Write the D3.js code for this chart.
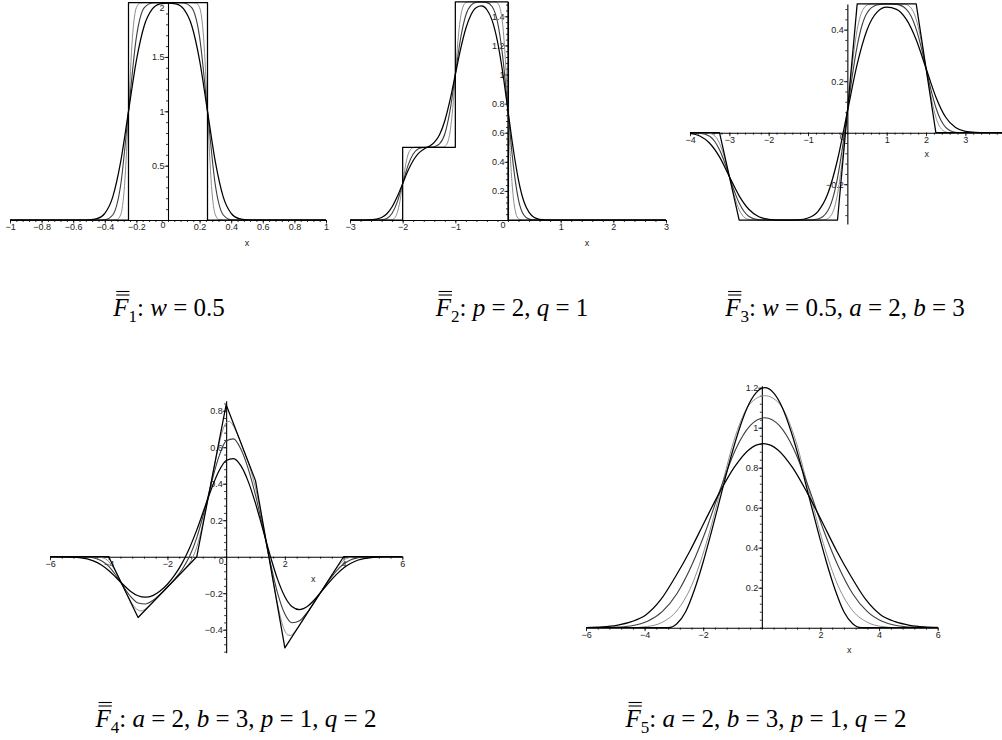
<!DOCTYPE html>
<html>
<head>
<meta charset="utf-8">
<script src="https://cdn.jsdelivr.net/npm/d3@7"></script>
<style>
  body { margin: 0; background: #fff; }
  svg { display: block; }
  .cap { font-family: "Liberation Serif", "Times New Roman", serif; font-size: 25px; white-space: pre; fill: #000; }
  .tick text, .lbl { font-family: "Liberation Sans", Arial, sans-serif; font-size: 9px; fill: #222; }
</style>
</head>
<body>
<svg id="fig" width="1002" height="740"></svg>
<script>
// ---------- F1: box of width 0.5 and its three smoothings ----------
const p1Box = [[-1,0],[-0.25,0],[-0.25,2],[0.25,2],[0.25,0],[1,0]];
const p1Light = [[-1,0],[-0.35,0],[-0.325,0.003],[-0.3,0.046],[-0.275,0.317],[-0.25,1.0],[-0.225,1.683],[-0.2,1.954],[-0.175,1.997],[-0.15,2],[0,2],[0.15,2],[0.175,1.997],[0.2,1.954],[0.225,1.683],[0.25,1.0],[0.275,0.317],[0.3,0.046],[0.325,0.003],[0.35,0],[1,0]];
const p1Mid = [[-1,0],[-0.45,0],[-0.4,0.003],[-0.35,0.046],[-0.3,0.317],[-0.25,1.0],[-0.2,1.683],[-0.15,1.954],[-0.1,1.997],[-0.05,2],[0,2],[0.05,2],[0.1,1.997],[0.15,1.954],[0.2,1.683],[0.25,1.0],[0.3,0.317],[0.35,0.046],[0.4,0.003],[0.45,0],[1,0]];
const p1Wide = [[-1,0],[-0.55,0],[-0.5,0.002],[-0.45,0.012],[-0.4,0.061],[-0.35,0.211],[-0.3,0.532],[-0.25,1.0],[-0.2,1.468],[-0.15,1.789],[-0.1,1.939],[-0.05,1.988],[0,1.996],[0.05,1.988],[0.1,1.939],[0.15,1.789],[0.2,1.468],[0.25,1.0],[0.3,0.532],[0.35,0.211],[0.4,0.061],[0.45,0.012],[0.5,0.002],[0.55,0],[1,0]];
const p1XTicks = [-1,-0.8,-0.6,-0.4,-0.2,0.2,0.4,0.6,0.8,1];
const p1YTicks = [0.5,1,1.5,2];

// ---------- F2: two-step function and its smoothings ----------
const p2Box = [[-3,0],[-2,0],[-2,0.5],[-1,0.5],[-1,1.5],[0,1.5],[0,0],[3,0]];
const p2Light = [[-3,0],[-2.3,0],[-2.25,0.0004],[-2.2,0.003],[-2.15,0.015],[-2.1,0.053],[-2.05,0.133],[-2,0.25],[-1.95,0.367],[-1.9,0.447],[-1.85,0.485],[-1.8,0.497],[-1.75,0.5],[-1.25,0.501],[-1.2,0.506],[-1.15,0.53],[-1.1,0.606],[-1.05,0.766],[-1,1.0],[-0.95,1.234],[-0.9,1.394],[-0.85,1.47],[-0.8,1.494],[-0.75,1.499],[-0.25,1.499],[-0.2,1.491],[-0.15,1.454],[-0.1,1.342],[-0.05,1.101],[0,0.75],[0.05,0.399],[0.1,0.158],[0.15,0.046],[0.2,0.009],[0.25,0.001],[0.3,0],[3,0]];
const p2Mid = [[-3,0],[-2.5,0],[-2.4,0.002],[-2.3,0.011],[-2.2,0.046],[-2.1,0.126],[-2,0.25],[-1.9,0.374],[-1.8,0.454],[-1.7,0.489],[-1.6,0.498],[-1.5,0.5],[-1.4,0.504],[-1.3,0.523],[-1.2,0.591],[-1.1,0.753],[-1,1.0],[-0.9,1.248],[-0.8,1.409],[-0.7,1.477],[-0.6,1.496],[-0.5,1.499],[-0.4,1.494],[-0.3,1.466],[-0.2,1.363],[-0.1,1.121],[0,0.75],[0.1,0.379],[0.2,0.137],[0.3,0.034],[0.4,0.006],[0.5,0.001],[0.6,0],[3,0]];
const p2Wide = [[-3,0],[-2.7,0],[-2.6,0.002],[-2.5,0.006],[-2.4,0.017],[-2.3,0.043],[-2.2,0.091],[-2.1,0.163],[-2,0.25],[-1.9,0.338],[-1.8,0.409],[-1.7,0.458],[-1.6,0.486],[-1.5,0.506],[-1.4,0.533],[-1.3,0.586],[-1.2,0.682],[-1.1,0.825],[-1,1.0],[-0.9,1.175],[-0.8,1.318],[-0.7,1.413],[-0.6,1.461],[-0.5,1.471],[-0.4,1.445],[-0.3,1.37],[-0.2,1.227],[-0.1,1.013],[0,0.75],[0.1,0.488],[0.2,0.273],[0.3,0.129],[0.4,0.052],[0.5,0.017],[0.6,0.005],[0.7,0.001],[0.8,0],[3,0]];
const p2XTicks = [-3,-2,-1,1,2,3];
const p2YTicks = [0.2,0.4,0.6,0.8,1,1.2,1.4];

// ---------- F3: trapezoid pair and its smoothings ----------
const p3Trap = [[-4,0],[-3.25,0],[-2.75,-0.339],[-0.25,-0.339],[0.25,0.5],[1.75,0.5],[2.25,0],[4,0]];
const p3Light = [[-4,0],[-3.7,0],[-3.55,-0.001],[-3.4,-0.009],[-3.325,-0.02],[-3.25,-0.041],[-3.15,-0.083],[-3,-0.17],[-2.85,-0.256],[-2.75,-0.299],[-2.675,-0.319],[-2.6,-0.331],[-2.45,-0.338],[-2.3,-0.339],[-0.7,-0.339],[-0.55,-0.337],[-0.4,-0.318],[-0.325,-0.289],[-0.25,-0.239],[-0.15,-0.133],[0,0.081],[0.15,0.294],[0.25,0.4],[0.325,0.45],[0.4,0.479],[0.55,0.498],[0.7,0.5],[1.3,0.5],[1.45,0.499],[1.6,0.488],[1.675,0.47],[1.75,0.44],[1.85,0.378],[2,0.25],[2.15,0.123],[2.25,0.06],[2.325,0.03],[2.4,0.013],[2.55,0.001],[2.7,0],[4,0]];
const p3Mid = [[-4,0],[-3.75,-0.002],[-3.5,-0.014],[-3.375,-0.033],[-3.25,-0.066],[-3.125,-0.113],[-3,-0.17],[-2.875,-0.226],[-2.75,-0.273],[-2.625,-0.306],[-2.5,-0.325],[-2.25,-0.338],[-2,-0.339],[-1,-0.339],[-0.75,-0.335],[-0.5,-0.304],[-0.375,-0.257],[-0.25,-0.175],[-0.125,-0.059],[0,0.081],[0.125,0.22],[0.25,0.336],[0.375,0.418],[0.5,0.465],[0.75,0.496],[1,0.5],[1.25,0.498],[1.5,0.479],[1.625,0.451],[1.75,0.402],[1.875,0.333],[2,0.25],[2.125,0.167],[2.25,0.098],[2.375,0.049],[2.5,0.021],[2.75,0.002],[3,0],[4,0]];
const p3Wide = [[-4,-0.003],[-3.75,-0.013],[-3.5,-0.041],[-3.25,-0.094],[-3,-0.17],[-2.75,-0.245],[-2.5,-0.298],[-2.25,-0.326],[-2,-0.336],[-1.75,-0.339],[-1.5,-0.339],[-1.25,-0.338],[-1,-0.331],[-0.75,-0.306],[-0.5,-0.238],[-0.25,-0.105],[0,0.081],[0.25,0.266],[0.5,0.399],[0.75,0.467],[1,0.487],[1.25,0.479],[1.5,0.44],[1.75,0.361],[2,0.25],[2.25,0.139],[2.5,0.06],[2.75,0.02],[3,0.005],[3.25,0.001],[3.5,0],[4,0]];
const p3XTicks = [-4,-3,-2,-1,1,2,3];
const p3YTicks = [-0.2,0.2,0.4];

// ---------- F4: piecewise linear wave and its smoothings ----------
const p4Sharp = [[-6,0],[-4,0],[-3,-0.333],[-1,0],[0,0.833],[1,0.417],[2,-0.5],[4,0],[6,0]];
const p4Light = [[-6,0],[-4.6,0],[-4.4,-0.001],[-4.3,-0.002],[-4.2,-0.006],[-4.1,-0.013],[-4,-0.027],[-3.9,-0.047],[-3.8,-0.072],[-3.7,-0.102],[-3.6,-0.133],[-3.5,-0.167],[-3.4,-0.199],[-3.3,-0.23],[-3.2,-0.258],[-3.1,-0.28],[-3,-0.293],[-2.9,-0.297],[-2.8,-0.292],[-2.7,-0.28],[-2.6,-0.266],[-2.4,-0.233],[-2,-0.167],[-1.6,-0.099],[-1.5,-0.083],[-1.4,-0.066],[-1.3,-0.046],[-1.2,-0.022],[-1.1,0.01],[-1,0.053],[-0.9,0.11],[-0.8,0.178],[-0.7,0.254],[-0.6,0.332],[-0.5,0.417],[-0.4,0.498],[-0.3,0.576],[-0.2,0.646],[-0.1,0.701],[0,0.734],[0.1,0.742],[0.2,0.729],[0.3,0.701],[0.4,0.665],[0.5,0.624],[0.6,0.582],[0.7,0.539],[0.8,0.492],[0.9,0.439],[1,0.377],[1.1,0.305],[1.2,0.225],[1.3,0.139],[1.4,0.049],[1.5,-0.041],[1.6,-0.131],[1.7,-0.218],[1.8,-0.297],[1.9,-0.362],[2,-0.407],[2.1,-0.429],[2.2,-0.431],[2.3,-0.418],[2.4,-0.398],[2.6,-0.35],[3,-0.25],[3.4,-0.15],[3.6,-0.1],[3.7,-0.077],[3.8,-0.054],[3.9,-0.035],[4,-0.02],[4.1,-0.01],[4.2,-0.004],[4.3,-0.002],[4.4,0],[6,0]];
const p4Mid = [[-6,0],[-5,0],[-4.75,-0.002],[-4.5,-0.007],[-4.25,-0.022],[-4,-0.053],[-3.75,-0.103],[-3.5,-0.163],[-3.25,-0.219],[-3,-0.254],[-2.75,-0.259],[-2.5,-0.24],[-2.25,-0.206],[-2,-0.166],[-1.75,-0.122],[-1.5,-0.07],[-1.25,0.001],[-1,0.105],[-0.75,0.246],[-0.5,0.405],[-0.25,0.547],[0,0.634],[0.25,0.646],[0.5,0.59],[0.75,0.483],[1,0.337],[1.25,0.161],[1.5,-0.028],[1.75,-0.198],[2,-0.314],[2.25,-0.362],[2.5,-0.351],[2.75,-0.307],[3,-0.249],[3.25,-0.189],[3.5,-0.13],[3.75,-0.079],[4,-0.04],[4.25,-0.016],[4.5,-0.005],[4.75,-0.001],[5,0],[6,0]];
const p4Wide = [[-6,0],[-5.5,-0.001],[-5,-0.005],[-4.5,-0.024],[-4.25,-0.045],[-4,-0.075],[-3.75,-0.114],[-3.5,-0.154],[-3.25,-0.19],[-3,-0.214],[-2.75,-0.222],[-2.5,-0.213],[-2.25,-0.188],[-2,-0.151],[-1.75,-0.1],[-1.5,-0.035],[-1.25,0.047],[-1,0.147],[-0.75,0.26],[-0.5,0.373],[-0.25,0.468],[0,0.527],[0.25,0.538],[0.5,0.499],[0.75,0.413],[1,0.292],[1.25,0.15],[1.5,0.006],[1.75,-0.123],[2,-0.219],[2.25,-0.274],[2.5,-0.29],[2.75,-0.274],[3,-0.237],[3.25,-0.19],[3.5,-0.142],[3.75,-0.098],[4,-0.062],[4.25,-0.036],[4.5,-0.018],[5,-0.004],[5.5,0],[6,0]];
const p4XTicks = [-6,-4,-2,2,4,6];
const p4YTicks = [-0.4,-0.2,0.2,0.4,0.6,0.8];

// ---------- F5: bell-shaped function and its smoothings ----------
const p5Sharp = [[-6,0],[-3.2,0],[-2.9,0.02],[-2.6,0.08],[-2.3,0.19],[-2,0.33],[-1.7,0.49],[-1.4,0.66],[-1.1,0.83],[-0.8,0.98],[-0.5,1.1],[-0.2,1.174],[0.1,1.2],[0.4,1.174],[0.7,1.1],[1,0.98],[1.3,0.83],[1.6,0.66],[1.9,0.49],[2.2,0.33],[2.5,0.19],[2.8,0.08],[3.1,0.02],[3.4,0],[6,0]];
const p5Light = [[-6,0],[-4.5,0],[-3.9,0.006],[-3.4,0.027],[-2.9,0.085],[-2.4,0.21],[-1.9,0.42],[-1.4,0.69],[-0.9,0.96],[-0.4,1.12],[0.1,1.16],[0.6,1.12],[1.1,0.96],[1.6,0.69],[2.1,0.42],[2.6,0.21],[3.1,0.085],[3.6,0.027],[4.1,0.006],[4.6,0],[6,0]];
const p5Mid = [[-6,0],[-5.4,0],[-4.9,0.003],[-4.4,0.011],[-3.9,0.032],[-3.4,0.08],[-2.9,0.17],[-2.4,0.31],[-1.9,0.49],[-1.4,0.7],[-0.9,0.89],[-0.4,1.01],[0.1,1.05],[0.6,1.01],[1.1,0.89],[1.6,0.7],[2.1,0.49],[2.6,0.31],[3.1,0.17],[3.6,0.08],[4.1,0.032],[4.6,0.011],[5.1,0.003],[5.6,0],[6,0]];
const p5Wide = [[-6,0.001],[-5.45,0.004],[-4.95,0.012],[-4.45,0.03],[-3.95,0.065],[-3.45,0.14],[-2.95,0.255],[-2.45,0.385],[-1.95,0.531],[-1.45,0.674],[-0.95,0.8],[-0.45,0.889],[0.05,0.92],[0.55,0.889],[1.05,0.8],[1.55,0.674],[2.05,0.531],[2.55,0.385],[3.05,0.255],[3.55,0.14],[4.05,0.065],[4.55,0.03],[5.05,0.012],[5.55,0.004],[6,0.001]];
const p5XTicks = [-6,-4,-2,2,4,6];
const p5YTicks = [0.2,0.4,0.6,0.8,1,1.2];

// ---------- captions: [text, italic] runs after the subscripted F ----------
const cap1 = [["w",1],[" = 0.5",0]];
const cap2 = [["p",1],[" = 2, ",0],["q",1],[" = 1",0]];
const cap3 = [["w",1],[" = 0.5, ",0],["a",1],[" = 2, ",0],["b",1],[" = 3",0]];
const cap4 = [["a",1],[" = 2, ",0],["b",1],[" = 3, ",0],["p",1],[" = 1, ",0],["q",1],[" = 2",0]];
const cap5 = [["a",1],[" = 2, ",0],["b",1],[" = 3, ",0],["p",1],[" = 1, ",0],["q",1],[" = 2",0]];

const svg = d3.select("#fig");
const COL_LIGHT = "#8e8e8e", COL_MID = "#3c3c3c", COL_BLACK = "#000";

function fmt(v) {
  return String(+v.toFixed(2)).replace("-", "\u2212");
}

function drawPanel(cfg) {
  const x = d3.scaleLinear().domain(cfg.xDomain).range(cfg.xRange);
  const y = d3.scaleLinear().domain(cfg.yDomain).range(cfg.yRange);
  const g = svg.append("g");
  const x0 = x(0), y0 = y(0);

  // minor ticks
  const xm = d3.range(Math.ceil(cfg.xDomain[0] / cfg.xMinor), Math.floor(cfg.xDomain[1] / cfg.xMinor) + 1).map(k => k * cfg.xMinor);
  const ym = d3.range(Math.ceil(cfg.yDomain[0] / cfg.yMinor), Math.floor(cfg.yDomain[1] / cfg.yMinor) + 1).map(k => k * cfg.yMinor);
  g.append("g").attr("transform", `translate(0,${y0})`)
    .call(d3.axisBottom(x).tickValues(xm).tickSize(2).tickSizeOuter(0).tickFormat(""))
    .call(a => a.select(".domain").remove());
  g.append("g").attr("transform", `translate(${x0},0)`)
    .call(d3.axisLeft(y).tickValues(ym).tickSize(2).tickSizeOuter(0).tickFormat(""))
    .call(a => a.select(".domain").remove());

  // labelled axes
  g.append("g").attr("transform", `translate(0,${y0})`)
    .call(d3.axisBottom(x).tickValues(cfg.xTicks).tickSize(3.5).tickPadding(0).tickSizeOuter(0).tickFormat(fmt));
  const ya = g.append("g").attr("transform", `translate(${x0},0)`)
    .call(d3.axisLeft(y).tickValues(cfg.yTicks).tickSize(3.5).tickPadding(0).tickSizeOuter(0).tickFormat(fmt));
  // keep the topmost label inside the frame
  ya.selectAll(".tick text").filter(d => y(d) < 5).attr("dy", "0.9em");
  g.selectAll(".domain").attr("stroke", "#000").attr("stroke-width", 1.1);
  g.selectAll(".tick line").attr("stroke", "#000").attr("stroke-width", 0.8);
  g.selectAll(".tick text").attr("font-family", null).attr("font-size", null);

  if (cfg.zeroLabel) {
    g.append("text").attr("class", "lbl").attr("x", x0 - 2.5).attr("y", y0 + 7.5)
      .attr("text-anchor", "end").text("0");
  }
  g.append("text").attr("class", "lbl").attr("x", cfg.xLabel[0]).attr("y", cfg.xLabel[1])
    .attr("text-anchor", "middle").attr("dy", "0.35em").text("x");

  const smooth = d3.line().x(d => x(d[0])).y(d => y(d[1])).curve(d3.curveMonotoneX);
  const straight = d3.line().x(d => x(d[0])).y(d => y(d[1]));
  const curves = [
    [cfg.light, smooth, COL_LIGHT, 1.0],
    [cfg.mid, smooth, COL_MID, 1.1],
    [cfg.wide, smooth, COL_BLACK, 1.25],
    [cfg.sharp, cfg.sharpSmooth ? smooth : straight, COL_BLACK, 1.25]
  ];
  curves.forEach(([data, gen, col, w]) => {
    g.append("path").datum(data).attr("d", gen).attr("fill", "none")
      .attr("stroke", col).attr("stroke-width", w).attr("stroke-linejoin", "round");
  });
}

function caption(cx, base, idx, runs) {
  const t = svg.append("text").attr("class", "cap").attr("x", cx).attr("y", base).attr("text-anchor", "middle");
  t.append("tspan").attr("font-style", "italic").text("F");
  t.append("tspan").attr("font-size", "17px").attr("dy", 6).text(idx);
  t.append("tspan").attr("dy", -6).text(": ");
  runs.forEach(([s, it]) => {
    const ts = t.append("tspan").text(s);
    if (it) ts.attr("font-style", "italic");
  });
  const ext = t.node().getExtentOfChar(0);
  [base - 24.5, base - 21].forEach(yy => {
    svg.append("line").attr("x1", ext.x + 3).attr("x2", ext.x + ext.width + 1)
      .attr("y1", yy).attr("y2", yy).attr("stroke", "#000").attr("stroke-width", 1.1);
  });
}

drawPanel({ xDomain: [-1, 1], xRange: [10, 326], yDomain: [0, 2], yRange: [220, 2.6],
  xTicks: p1XTicks, yTicks: p1YTicks, xMinor: 0.04, yMinor: 0.1, zeroLabel: true, xLabel: [247, 243],
  light: p1Light, mid: p1Mid, wide: p1Wide, sharp: p1Box });
drawPanel({ xDomain: [-3, 3], xRange: [350, 666], yDomain: [0, 1.5], yRange: [220, 1.75],
  xTicks: p2XTicks, yTicks: p2YTicks, xMinor: 0.2, yMinor: 0.04, zeroLabel: true, xLabel: [587, 243],
  light: p2Light, mid: p2Mid, wide: p2Wide, sharp: p2Box });
drawPanel({ xDomain: [-4, 4], xRange: [690, 1004.7], yDomain: [-0.354, 0.5], yRange: [223.9, 3.9],
  xTicks: p3XTicks, yTicks: p3YTicks, xMinor: 0.2, yMinor: 0.04, zeroLabel: true, xLabel: [926.7, 154],
  light: p3Light, mid: p3Mid, wide: p3Wide, sharp: p3Trap });
drawPanel({ xDomain: [-6, 6], xRange: [50, 402.3], yDomain: [-0.526, 0.855], yRange: [652.7, 400.7],
  xTicks: p4XTicks, yTicks: p4YTicks, xMinor: 0.4, yMinor: 0.04, zeroLabel: true, xLabel: [313.3, 579],
  light: p4Light, mid: p4Mid, wide: p4Wide, sharp: p4Sharp });
drawPanel({ xDomain: [-6, 6], xRange: [586, 937.7], yDomain: [0, 1.21], yRange: [627.7, 385.7],
  xTicks: p5XTicks, yTicks: p5YTicks, xMinor: 0.4, yMinor: 0.04, zeroLabel: false, xLabel: [849.3, 650],
  light: p5Light, mid: p5Mid, wide: p5Wide, sharp: p5Sharp, sharpSmooth: true });

caption(169, 316, "1", cap1);
caption(512, 316, "2", cap2);
caption(845, 316, "3", cap3);
caption(236, 727, "4", cap4);
caption(766, 727, "5", cap5);
</script>
</body>
</html>
